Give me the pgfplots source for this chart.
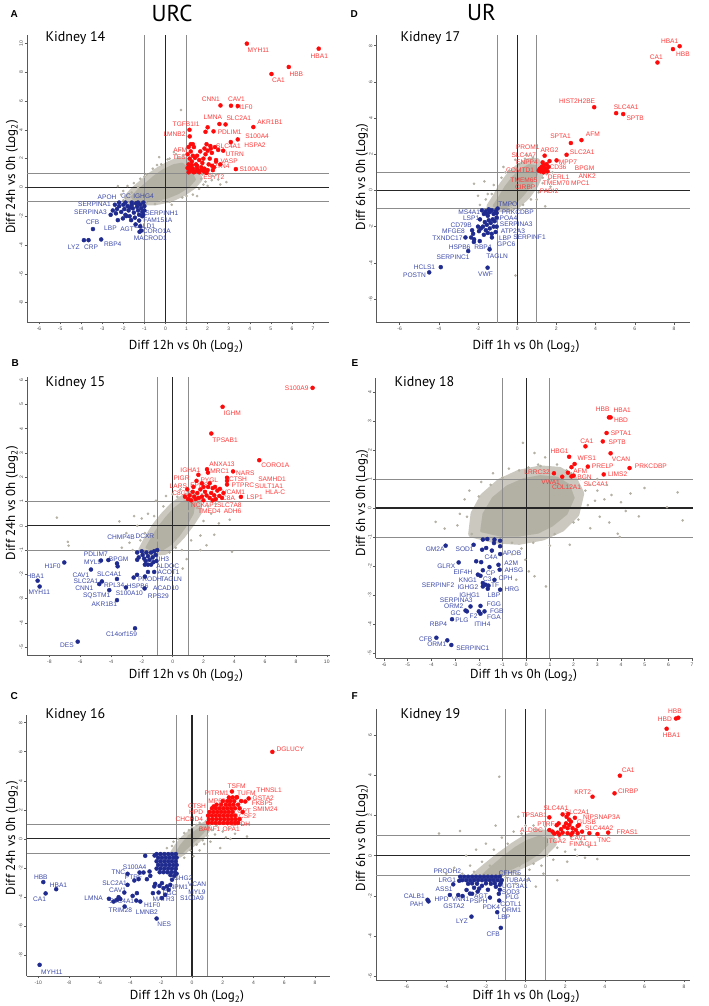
\documentclass[border=0pt]{standalone}
\usepackage{fontspec}
\setmainfont{PT Sans}
\newfontfamily\gfont{Liberation Sans}
\usepackage{pgfplots}
\pgfplotsset{compat=1.18}
\definecolor{ptgray}{HTML}{B3B0A4}
\definecolor{ptred}{HTML}{FF0A0A}
\definecolor{ptblue}{HTML}{1F2B8E}
\definecolor{lred}{HTML}{FF3A3A}
\definecolor{lblue}{HTML}{3B49A8}
\definecolor{refg}{HTML}{8C8C8C}
\pgfplotsset{
 volc/.style={scale only axis, anchor=south west,
   axis x line*=bottom, axis y line*=left,
   axis line style={black!65, line width=0.7pt, -},
   tick align=outside, major tick length=2.5pt,
   every tick/.style={black!65, line width=0.5pt},
   /pgf/number format/assume math mode=true,
   ticklabel style={font=\gfont\fontsize{5}{6}\selectfont, text=black!70},
   yticklabel style={rotate=90, anchor=south, inner sep=1.5pt},
   xticklabel style={inner sep=2pt},
   clip=false},
 gp/.style={only marks, mark=*, mark size=1.1pt, color=ptgray},
 halo/.style={fill=ptgray!70, draw=ptgray!70, line width=7pt, line join=round, mark=none},
 core/.style={fill=ptgray, draw=ptgray, line width=2pt, line join=round, mark=none},
 rp/.style={only marks, mark=*, mark size=2pt, color=ptred},
 bp/.style={only marks, mark=*, mark size=2pt, color=ptblue},
 l1/.style={refg, line width=0.9pt, mark=none},
 l0/.style={black!85, line width=1.2pt, mark=none},
}
\tikzset{
 rl/.style={font=\gfont\fontsize{6.6}{7}\selectfont, text=lred, inner sep=0pt},
 bl/.style={font=\gfont\fontsize{6.6}{7}\selectfont, text=lblue, inner sep=0pt},
 ttl/.style={font=\fontsize{23}{24}\selectfont, anchor=base},
 let/.style={font=\gfont\bfseries\fontsize{10}{11}\selectfont, anchor=base west},
 kid/.style={font=\fontsize{14}{15}\selectfont, anchor=base west},
 axl/.style={font=\fontsize{13}{14}\selectfont},
}
\begin{document}
\begin{tikzpicture}
\useasboundingbox (0pt,0pt) rectangle (709pt,1006pt);

% ================= A =================
\begin{axis}[volc, at={(27pt,684pt)}, width=302pt, height=287pt,
  xmin=-6.57, xmax=7.76, ymin=-9.34, ymax=10.58,
  xtick={-6,-5,...,7}, ytick={-8,-6,...,10}]
\addplot[halo] coordinates {(-1.8,-0.7) (-1.5,-0.2) (-1.1,0.3) (-0.7,0.8) (-0.3,1.2) (0.2,1.6) (0.7,1.9) (1.0,1.8) (1.4,1.2) (1.6,0.6) (1.3,0.1) (0.8,-0.4) (0.2,-0.8) (-0.5,-1.0) (-1.2,-1.0) (-1.7,-0.95)} --cycle;
\addplot[core] coordinates {(-1.6,-0.65) (-1.3,-0.2) (-0.9,0.3) (-0.5,0.8) (-0.1,1.2) (0.4,1.55) (0.8,1.65) (1.2,1.1) (1.4,0.55) (1.1,0.05) (0.6,-0.4) (0.1,-0.7) (-0.5,-0.9) (-1.1,-0.9) (-1.5,-0.85)} --cycle;
\addplot[gp] coordinates {(0.74,5.37) (-2.26,0.09) (-2.0,-0.25) (-1.8,0.1) (-1.5,0.3) (-1.2,0.6) (-0.9,0.9) (-0.6,1.3) (-0.2,1.6) (0.2,2.0) (0.5,2.3) (0.7,2.6) (0.4,2.45) (0.85,2.25) (1.7,0.6) (1.9,0.4) (2.2,0.8) (2.5,0.55) (2.89,0.37) (2.0,0.1) (1.6,-0.1) (1.3,-0.5) (0.8,-0.7) (0.2,-1.0) (-0.5,-1.15) (-1.9,-0.7) (-2.1,-0.5) (-1.6,-0.35) (1.75,0.9) (2.4,0.9) (-0.9,-1.05) (-1.3,0.0) (1.5,-0.6) (2.6,0.2) (0.3,-1.2) (-0.3,2.1) (-1.0,0.75) (-0.4,1.55) (0.1,1.95) (1.1,2.0) (1.5,1.5) (1.8,0.2) (1.0,-0.6) (-0.2,-0.95) (-1.45,-1.05) (-2.0,-0.9) (2.2,0.5)};
\addplot[l1] coordinates {(-1,-9.34) (-1,10.58)};
\addplot[l1] coordinates {(1,-9.34) (1,10.58)};
\addplot[l1] coordinates {(-6.57,1) (7.76,1)};
\addplot[l1] coordinates {(-6.57,-1) (7.76,-1)};
\addplot[l0] coordinates {(0,-9.34) (0,10.58)};
\addplot[l0] coordinates {(-6.57,0) (7.76,0)};
\addplot[rp] coordinates {(3.86,9.98) (7.27,9.63) (5.85,8.36) (5.03,7.87) (2.61,5.69) (3.11,5.67) (3.43,5.65) (2.56,4.40) (2.85,4.37) (4.17,4.19) (1.14,4.0) (1.15,3.54) (2.28,3.89) (2.0,4.17) (1.9,3.86) (3.43,3.33) (3.10,3.15) (2.13,2.87) (2.74,2.55) (2.40,1.90) (2.21,1.50) (3.34,1.27) (1.82,1.11)
(1.1,1.05) (1.15,1.2) (1.2,1.4) (1.1,1.6) (1.25,1.8) (1.15,2.0) (1.3,2.2) (1.2,2.5) (1.35,2.8) (1.2,3.0) (1.3,3.0) (1.4,1.1) (1.5,1.3) (1.45,1.6) (1.6,1.9) (1.55,1.15) (1.7,1.4) (1.75,1.7) (1.8,2.0) (1.9,2.3) (1.85,2.7) (1.95,3.0) (2.0,1.2) (2.05,1.6) (2.1,2.0) (2.2,2.4) (2.15,2.7) (2.3,1.4) (2.35,2.8) (2.4,1.8) (2.5,2.6) (1.6,1.05) (1.3,1.3) (1.05,1.35) (1.05,2.3) (1.5,2.2) (1.7,1.2) (1.95,1.0) (1.25,1.55) (2.25,1.2) (1.65,2.5) (1.4,2.05) (1.1,2.8) (2.6,1.6) (2.0,2.55) (1.35,1.05) (1.2,1.15) (1.5,1.5) (1.85,1.3)};
\addplot[bp] coordinates {(-2.4,-1.2) (-2.3,-1.5) (-2.2,-1.3) (-2.1,-1.7) (-2.0,-1.2) (-1.95,-1.5) (-1.9,-1.9) (-1.8,-1.3) (-1.75,-1.6) (-1.7,-2.0) (-1.6,-1.2) (-1.55,-1.45) (-1.5,-1.75) (-1.45,-2.1) (-1.4,-1.1) (-1.35,-1.35) (-1.3,-1.6) (-1.25,-1.9) (-1.2,-1.2) (-1.15,-1.45) (-1.1,-1.7) (-1.05,-1.05) (-1.1,-2.0) (-1.3,-1.05) (-1.6,-1.05) (-1.9,-1.05) (-2.2,-1.05) (-1.7,-1.4) (-1.25,-2.3) (-2.26,-2.27) (-2.02,-2.15) (-1.86,-1.99) (-1.63,-2.27) (-1.42,-2.57) (-1.23,-3.08) (-1.15,-3.0) (-3.44,-2.89) (-3.87,-3.66) (-3.65,-3.66) (-3.05,-3.61) (-2.5,-1.6) (-2.6,-1.9) (-2.35,-1.8) (-1.2,-2.7) (-1.0,-1.3) (-1.0,-1.6) (-1.05,-1.9)};
\node[rl] at (axis cs:4.41,9.49) {MYH11};
\node[rl] at (axis cs:7.30,9.14) {HBA1};
\node[rl] at (axis cs:6.21,7.89) {HBB};
\node[rl] at (axis cs:5.36,7.43) {CA1};
\node[rl] at (axis cs:2.15,6.11) {CNN1};
\node[rl] at (axis cs:3.37,6.11) {CAV1};
\node[rl] at (axis cs:3.75,5.56) {H1F0};
\node[rl] at (axis cs:2.25,4.84) {LMNA};
\node[rl] at (axis cs:3.48,4.79) {SLC2A1};
\node[rl] at (axis cs:4.96,4.51) {AKR1B1};
\node[rl] at (axis cs:0.98,4.42) {TGFB1I1};
\node[rl] at (axis cs:0.43,3.70) {LMNB2};
\node[rl] at (axis cs:3.05,3.82) {PDLIM1};
\node[rl] at (axis cs:4.35,3.52) {S100A4};
\node[rl] at (axis cs:4.25,2.96) {HSPA2};
\node[rl] at (axis cs:2.99,2.85) {SLC4A1};
\node[rl] at (axis cs:3.29,2.27) {UTRN};
\node[rl] at (axis cs:0.70,2.55) {AFM};
\node[rl] at (axis cs:0.66,2.08) {TES};
\node[rl] at (axis cs:3.02,1.83) {VASP};
\node[rl] at (axis cs:2.64,1.44) {RTN4};
\node[rl] at (axis cs:4.16,1.27) {S100A10};
\node[rl] at (axis cs:2.29,0.74) {ESYT2};
\node[bl] at (axis cs:-2.77,-0.69) {APOH};
\node[bl] at (axis cs:-1.87,-0.60) {GC};
\node[bl] at (axis cs:-1.04,-0.60) {IGHG4};
\node[bl] at (axis cs:-3.37,-1.20) {SERPINA1};
\node[bl] at (axis cs:-3.56,-1.74) {SERPINA3};
\node[bl] at (axis cs:-0.17,-1.81) {SERPINH1};
\node[bl] at (axis cs:-0.36,-2.27) {FAM151A};
\node[bl] at (axis cs:-1.0,-2.69) {CALD1};
\node[bl] at (axis cs:-0.41,-3.03) {CORO1A};
\node[bl] at (axis cs:-0.72,-3.56) {MACROD1};
\node[bl] at (axis cs:-3.45,-2.45) {CFB};
\node[bl] at (axis cs:-2.61,-2.85) {LBP};
\node[bl] at (axis cs:-1.82,-2.92) {AGT};
\node[bl] at (axis cs:-4.35,-4.12) {LYZ};
\node[bl] at (axis cs:-3.53,-4.12) {CRP};
\node[bl] at (axis cs:-2.50,-3.94) {RBP4};
\end{axis}

% ================= D =================
\begin{axis}[volc, at={(376.7pt,683.3pt)}, width=313.3pt, height=287.7pt,
  xmin=-7.17, xmax=8.82, ymin=-7.31, ymax=8.59,
  xtick={-6,-4,...,8}, ytick={-6,-4,...,8}]
\addplot[halo] coordinates {(-1.4,-0.9) (-1.1,-0.4) (-0.8,0.2) (-0.4,0.8) (0.1,1.3) (0.6,1.6) (1.0,1.6) (1.2,1.0) (0.9,0.3) (0.5,-0.3) (0.0,-0.8) (-0.5,-1.0) (-1.0,-1.0)} --cycle;
\addplot[core] coordinates {(-1.2,-0.85) (-0.9,-0.35) (-0.6,0.2) (-0.2,0.75) (0.2,1.15) (0.6,1.4) (0.95,1.35) (1.0,0.9) (0.7,0.3) (0.3,-0.25) (-0.1,-0.7) (-0.5,-0.9) (-0.9,-0.95)} --cycle;
\addplot[gp] coordinates {(-1.67,0.50) (-2.2,0.37) (1.43,-0.88) (-0.09,-4.70) (-1.3,-0.2) (-1.6,-0.5) (-1.9,-0.8) (-1.2,0.3) (-0.8,0.7) (-0.4,1.1) (0.1,1.45) (0.4,1.75) (0.8,1.8) (0.5,1.95) (1.3,0.4) (1.6,0.6) (1.8,1.0) (1.1,-0.1) (0.7,-0.5) (0.3,-0.8) (-0.3,-1.0) (-0.9,-0.5) (-0.5,0.3) (1.5,0.9) (-1.1,-0.9) (-0.7,1.3) (-0.1,1.7) (1.3,0.7) (-1.5,-0.2) (-0.6,1.0) (0.2,-1.05) (1.0,-0.5) (1.7,0.2) (-2.0,-0.3) (0.9,1.3)};
\addplot[l1] coordinates {(-1,-7.31) (-1,8.59)};
\addplot[l1] coordinates {(1,-7.31) (1,8.59)};
\addplot[l1] coordinates {(-7.17,1) (8.82,1)};
\addplot[l1] coordinates {(-7.17,-1) (8.82,-1)};
\addplot[l0] coordinates {(0,-7.31) (0,8.59)};
\addplot[l0] coordinates {(-7.17,0) (8.82,0)};
\addplot[rp] coordinates {(7.95,7.81) (8.29,7.97) (7.16,7.07) (3.93,4.60) (5.05,4.27) (5.41,4.22) (3.28,2.78) (2.74,2.62) (1.40,1.92) (2.52,1.97) (2.01,1.66) (1.65,1.62) (1.3,1.55) (1.35,1.4) (1.25,1.3) (1.4,1.25) (1.5,1.2) (1.3,1.15) (1.45,1.1) (1.2,1.05) (1.55,1.05) (1.35,1.0) (1.6,1.3) (1.15,1.2) (1.5,1.45) (1.1,1.1)};
\addplot[bp] coordinates {(-3.90,-4.24) (-4.49,-4.53) (-1.51,-4.27) (-1.41,-3.26) (-2.50,-3.35) (-2.21,-2.85) (-1.91,-2.80) (-2.64,-2.60) (-1.29,-2.60) (-1.8,-1.1) (-1.7,-1.3) (-1.6,-1.15) (-1.5,-1.4) (-1.4,-1.2) (-1.3,-1.1) (-1.2,-1.3) (-1.1,-1.15) (-1.05,-1.5) (-1.15,-1.7) (-1.25,-1.6) (-1.35,-1.8) (-1.45,-1.65) (-1.55,-1.9) (-1.65,-1.75) (-1.75,-2.0) (-1.85,-2.1) (-1.9,-1.6) (-2.0,-2.0) (-1.6,-2.2) (-1.4,-2.1) (-1.2,-2.0) (-1.1,-2.3) (-1.3,-2.4) (-1.5,-2.35) (-1.7,-2.45) (-2.3,-2.2) (-2.25,-2.4) (-2.35,-2.6) (-2.2,-2.7) (-1.95,-2.25) (-1.0,-1.0) (-1.45,-1.05) (-1.05,-2.0) (-1.55,-1.3) (-1.05,-1.25)};
\node[rl] at (axis cs:7.78,8.23) {HBA1};
\node[rl] at (axis cs:8.46,7.50) {HBB};
\node[rl] at (axis cs:7.10,7.37) {CA1};
\node[rl] at (axis cs:3.06,4.95) {HIST2H2BE};
\node[rl] at (axis cs:5.56,4.60) {SLC4A1};
\node[rl] at (axis cs:6.02,4.01) {SPTB};
\node[rl] at (axis cs:3.86,3.08) {AFM};
\node[rl] at (axis cs:2.21,2.98) {SPTA1};
\node[rl] at (axis cs:0.54,2.38) {PROM1};
\node[rl] at (axis cs:1.65,2.21) {ARG2};
\node[rl] at (axis cs:0.34,1.97) {SLC4A7};
\node[rl] at (axis cs:3.32,2.12) {SLC2A1};
\node[rl] at (axis cs:0.50,1.55) {ENPP4};
\node[rl] at (axis cs:2.59,1.57) {MPP7};
\node[rl] at (axis cs:2.08,1.29) {CD36};
\node[rl] at (axis cs:3.44,1.23) {BPGM};
\node[rl] at (axis cs:0.15,1.14) {COMTD1};
\node[rl] at (axis cs:2.11,0.74) {DERL1};
\node[rl] at (axis cs:3.57,0.81) {ANK2};
\node[rl] at (axis cs:0.34,0.59) {TMEM65};
\node[rl] at (axis cs:1.99,0.41) {TMEM70};
\node[rl] at (axis cs:3.22,0.41) {MPC1};
\node[rl] at (axis cs:0.41,0.15) {CIRBP};
\node[rl] at (axis cs:1.63,-0.04) {PADI2};
\node[bl] at (axis cs:-0.48,-0.77) {TMPO};
\node[bl] at (axis cs:-2.45,-1.22) {MS4A1};
\node[bl] at (axis cs:0.03,-1.22) {PRKCDBP};
\node[bl] at (axis cs:-2.35,-1.51) {LSP1};
\node[bl] at (axis cs:-0.56,-1.51) {APOA4};
\node[bl] at (axis cs:-2.86,-1.90) {CD79B};
\node[bl] at (axis cs:-0.05,-1.88) {SERPINA3};
\node[bl] at (axis cs:-3.25,-2.23) {MFGE8};
\node[bl] at (axis cs:-0.22,-2.23) {ATP2A3};
\node[bl] at (axis cs:-3.56,-2.63) {TXNDC17};
\node[bl] at (axis cs:-0.61,-2.65) {LBP};
\node[bl] at (axis cs:0.63,-2.58) {SERPINF1};
\node[bl] at (axis cs:-2.94,-3.13) {HSPB6};
\node[bl] at (axis cs:-1.75,-3.13) {RBP4};
\node[bl] at (axis cs:-0.56,-3.00) {GPC6};
\node[bl] at (axis cs:-3.27,-3.70) {SERPINC1};
\node[bl] at (axis cs:-1.02,-3.61) {TAGLN};
\node[bl] at (axis cs:-4.73,-4.24) {HCLS1};
\node[bl] at (axis cs:-5.24,-4.70) {POSTN};
\node[bl] at (axis cs:-1.62,-4.64) {VWF};
\end{axis}

% ================= B =================
\begin{axis}[volc, at={(27.3pt,351pt)}, width=302.7pt, height=278.3pt,
  xmin=-9.43, xmax=10.21, ymin=-5.32, ymax=6.14,
  xtick={-8,-6,...,10}, ytick={-5,-4,...,6}]
\addplot[halo] coordinates {(-2.0,-1.0) (-1.6,-0.5) (-1.1,0.0) (-0.6,0.4) (0.0,0.8) (0.6,1.1) (1.2,1.3) (1.6,1.1) (1.7,0.6) (1.2,0.1) (0.6,-0.4) (0.0,-0.8) (-0.5,-1.05) (-1.2,-1.1)} --cycle;
\addplot[core] coordinates {(-1.7,-0.9) (-1.3,-0.45) (-0.9,-0.05) (-0.4,0.35) (0.1,0.7) (0.6,0.95) (1.1,1.1) (1.4,0.9) (1.3,0.5) (0.9,0.05) (0.4,-0.4) (-0.1,-0.75) (-0.6,-0.95) (-1.2,-1.0)} --cycle;
\addplot[gp] coordinates {(-7.51,0.34) (-6.8,-0.66) (-6.75,-0.82) (-3.46,0.18) (-2.5,0.4) (-3.0,-0.3) (-2.8,-0.7) (-2.3,0.0) (-2.1,-0.6) (-1.6,0.5) (-1.08,1.03) (-0.43,1.23) (0.0,1.3) (0.5,1.5) (1.58,0.73) (2.5,0.5) (2.70,-0.37) (3.85,-1.07) (0.91,-1.37) (0.65,-1.76) (2.2,-0.8) (1.8,-0.4) (3.0,0.1) (3.7,0.25) (1.2,-0.6) (0.6,-1.0) (-0.2,-1.1) (2.3,0.8) (1.5,1.0) (-1.5,-1.0) (-3.3,-0.9) (-2.6,-1.0) (1.8,-1.0) (-1.2,0.4) (2.8,0.9) (2.0,0.2) (-2.0,0.3) (-0.6,0.8) (0.3,1.2) (1.0,0.6) (1.9,1.3) (-1.8,-0.3) (0.2,-0.9) (-1.0,-0.6)};
\addplot[l1] coordinates {(-1,-5.32) (-1,6.14)};
\addplot[l1] coordinates {(1,-5.32) (1,6.14)};
\addplot[l1] coordinates {(-9.43,1) (10.21,1)};
\addplot[l1] coordinates {(-9.43,-1) (10.21,-1)};
\addplot[l0] coordinates {(0,-5.32) (0,6.14)};
\addplot[l0] coordinates {(-9.43,0) (10.21,0)};
\addplot[rp] coordinates {(9.08,5.68) (3.24,4.90) (2.51,3.80) (5.62,2.70) (2.23,2.33) (1.67,2.10) (2.29,2.19) (3.92,2.24) (3.53,1.98) (3.53,1.85) (3.53,1.70) (4.43,1.19) (3.07,1.52) (3.03,1.23)
(1.0,1.1) (1.1,1.25) (1.2,1.05) (1.3,1.4) (1.4,1.2) (1.5,1.1) (1.6,1.35) (1.7,1.15) (1.8,1.5) (1.9,1.2) (2.0,1.05) (2.1,1.4) (2.2,1.25) (2.3,1.6) (2.4,1.15) (2.5,1.35) (2.6,1.05) (2.7,1.25) (2.8,1.1) (2.9,1.45) (1.9,1.75) (2.4,1.75) (2.6,1.55) (1.35,1.6) (0.95,1.5) (2.0,1.6) (1.55,1.85) (2.75,1.6) (3.2,1.15) (3.3,1.35) (0.8,1.2)};
\addplot[bp] coordinates {(-7.03,-1.51) (-8.76,-2.26) (-8.63,-2.50) (-5.30,-1.80) (-2.44,-4.22) (-6.16,-4.77) (-3.61,-3.06) (-4.65,-1.43) (-4.17,-1.41) (-3.57,-1.67) (-3.61,-1.55) (-3.61,-2.19) (-4.59,-2.29) (-4.76,-2.40) (-4.11,-2.65) (-3.03,-2.54) (-2.53,-2.13) (-2.31,-2.02) (-1.82,-2.58) (-1.80,-2.09) (-1.6,-1.9) (-1.2,-1.9) (-1.6,-1.6) (-1.8,-1.6) (-2.3,-1.1) (-2.2,-1.3) (-2.0,-1.05) (-1.95,-1.2) (-1.85,-1.35) (-1.7,-1.1) (-1.6,-1.25) (-1.5,-1.4) (-1.4,-1.1) (-1.3,-1.3) (-1.2,-1.05) (-1.1,-1.2) (-1.05,-1.45) (-1.25,-1.5) (-2.3,-1.4) (-1.75,-1.45) (-1.0,-1.0) (-1.4,-1.6)};
\node[rl] at (axis cs:8.05,5.68) {S100A9};
\node[rl] at (axis cs:3.87,4.64) {IGHM};
\node[rl] at (axis cs:3.40,3.53) {TPSAB1};
\node[rl] at (axis cs:6.66,2.51) {CORO1A};
\node[rl] at (axis cs:3.20,2.55) {ANXA13};
\node[rl] at (axis cs:1.15,2.29) {IGHA1};
\node[rl] at (axis cs:3.05,2.24) {MRC1};
\node[rl] at (axis cs:4.72,2.18) {NARS};
\node[rl] at (axis cs:0.58,1.95) {PIGR};
\node[rl] at (axis cs:2.38,1.89) {PYGL};
\node[rl] at (axis cs:4.24,1.93) {CTSH};
\node[rl] at (axis cs:6.45,1.91) {SAMHD1};
\node[rl] at (axis cs:0.37,1.65) {LARS};
\node[rl] at (axis cs:1.73,1.69) {EPRS};
\node[rl] at (axis cs:4.56,1.69) {PTPRC};
\node[rl] at (axis cs:6.25,1.63) {SULT1A1};
\node[rl] at (axis cs:6.66,1.37) {HLA-C};
\node[rl] at (axis cs:0.43,1.34) {C8G};
\node[rl] at (axis cs:3.96,1.40) {VCAM1};
\node[rl] at (axis cs:3.63,1.14) {C8A};
\node[rl] at (axis cs:5.32,1.18) {LSP1};
\node[rl] at (axis cs:2.05,0.84) {NCKAP1};
\node[rl] at (axis cs:3.68,0.86) {SLC7A8};
\node[rl] at (axis cs:2.38,0.58) {TMED4};
\node[rl] at (axis cs:3.89,0.60) {ADH6};
\node[bl] at (axis cs:-3.35,-0.49) {CHMP4B};
\node[bl] at (axis cs:-1.80,-0.41) {DCXR};
\node[bl] at (axis cs:-4.98,-1.18) {PDLIM7};
\node[bl] at (axis cs:-5.19,-1.51) {MYL9};
\node[bl] at (axis cs:-3.50,-1.37) {BPGM};
\node[bl] at (axis cs:-7.79,-1.67) {H1F0};
\node[bl] at (axis cs:-8.91,-2.06) {HBA1};
\node[bl] at (axis cs:-8.65,-2.74) {MYH11};
\node[bl] at (axis cs:-5.95,-2.03) {CAV1};
\node[bl] at (axis cs:-5.62,-2.30) {SLC2A1};
\node[bl] at (axis cs:-5.73,-2.58) {CNN1};
\node[bl] at (axis cs:-4.11,-2.00) {SLC4A1};
\node[bl] at (axis cs:-3.79,-2.44) {RPL34};
\node[bl] at (axis cs:-4.93,-2.88) {SQSTM1};
\node[bl] at (axis cs:-4.43,-3.25) {AKR1B1};
\node[bl] at (axis cs:-2.81,-2.78) {S100A10};
\node[bl] at (axis cs:-0.93,-2.88) {RPS29};
\node[bl] at (axis cs:-0.43,-2.58) {ACAD10};
\node[bl] at (axis cs:-0.09,-2.19) {TAGLN};
\node[bl] at (axis cs:-0.26,-1.92) {ACOT1};
\node[bl] at (axis cs:-0.32,-1.67) {ALDOC};
\node[bl] at (axis cs:-0.76,-1.37) {ITIH3};
\node[bl] at (axis cs:-1.47,-2.22) {PRODH};
\node[bl] at (axis cs:-2.27,-2.50) {HSPB6};
\node[bl] at (axis cs:-3.31,-4.46) {C14orf159};
\node[bl] at (axis cs:-6.86,-4.91) {DES};
\end{axis}

% ================= E =================
\begin{axis}[volc, at={(375.7pt,347.7pt)}, width=317.6pt, height=280pt,
  xmin=-6.35, xmax=7.05, ymin=-5.19, ymax=4.48,
  xtick={-6,-5,...,7}, ytick={-5,-4,...,4}]
\addplot[halo] coordinates {(-2.3,-0.9) (-2.2,-0.2) (-1.8,0.4) (-1.1,0.9) (-0.3,1.2) (0.6,1.35) (1.4,1.3) (2.0,1.0) (2.3,0.5) (2.1,-0.2) (1.5,-0.7) (0.7,-1.0) (-0.3,-1.15) (-1.3,-1.1)} --cycle;
\addplot[core] coordinates {(-1.9,-0.8) (-1.8,-0.2) (-1.4,0.35) (-0.8,0.75) (-0.1,1.0) (0.6,1.1) (1.3,1.05) (1.8,0.8) (2.0,0.35) (1.7,-0.2) (1.1,-0.6) (0.5,-0.85) (-0.3,-0.95) (-1.1,-0.95)} --cycle;
\addplot[gp] coordinates {(-3.82,-0.48) (-3.44,-0.71) (-2.8,-0.2) (-2.6,0.3) (-2.9,-0.6) (-2.4,0.6) (-1.9,0.9) (-1.4,1.2) (-0.73,1.36) (-0.14,2.25) (0.35,1.90) (0.8,1.75) (0.5,1.5) (1.3,1.5) (-1.0,1.05) (1.9,1.2) (2.3,1.0) (2.7,0.8) (3.0,0.6) (3.0,1.0) (3.3,0.3) (3.6,0.45) (4.0,0.2) (4.4,0.5) (4.99,0.69) (6.39,0.54) (6.6,-0.43) (5.94,0.03) (4.75,-0.29) (3.86,-0.89) (3.95,-1.0) (3.1,-0.3) (2.7,-0.7) (2.6,0.1) (2.0,-0.5) (1.84,-1.27) (1.2,-0.9) (0.3,-1.2) (-0.2,-1.4) (0.11,-2.19) (0.35,-2.36) (-0.04,-1.79) (0.83,-2.71) (-0.42,-2.48) (-0.6,-1.2) (-2.3,-0.9) (-2.0,0.4) (-1.8,-0.6) (0.6,1.45) (-0.3,1.3) (3.5,-0.5) (4.2,-0.1) (1.0,-1.3) (-0.6,-1.6) (2.5,0.6) (2.2,-0.4) (-2.5,-0.3) (1.7,1.3) (0.1,1.4) (-1.5,0.8) (3.4,0.8) (2.9,0.25)};
\addplot[l1] coordinates {(-1,-5.19) (-1,4.48)};
\addplot[l1] coordinates {(1,-5.19) (1,4.48)};
\addplot[l1] coordinates {(-6.35,1) (7.05,1)};
\addplot[l1] coordinates {(-6.35,-1) (7.05,-1)};
\addplot[l0] coordinates {(0,-5.19) (0,4.48)};
\addplot[l0] coordinates {(-6.35,0) (7.05,0)};
\addplot[rp] coordinates {(3.49,3.13) (3.56,3.13) (3.39,2.59) (3.23,2.30) (2.50,2.13) (1.81,1.77) (3.56,1.89) (2.04,1.52) (2.60,1.43) (4.36,1.38) (1.17,1.20) (1.91,1.41) (1.76,1.22) (3.27,1.16) (1.91,1.09) (2.0,1.12) (1.52,1.08)};
\addplot[bp] coordinates {(-3.40,-1.30) (-2.22,-1.27) (-2.85,-1.88) (-3.79,-4.48) (-3.33,-4.57) (-3.16,-4.73) (-3.13,-3.84) (-2.56,-3.54) (-2.35,-3.40) (-2.50,-3.57) (-2.0,-3.57) (-1.93,-3.38) (-1.93,-3.65) (-1.76,-3.57) (-2.11,-1.84) (-1.90,-1.87) (-1.83,-2.15) (-1.93,-2.34) (-2.04,-2.30) (-1.83,-2.71) (-1.71,-2.65) (-1.62,-2.79) (-1.59,-2.68) (-1.34,-2.48) (-1.10,-2.82) (-1.12,-2.13) (-1.17,-1.96) (-1.55,-2.04) (-1.10,-1.59) (-1.45,-1.47) (-1.69,-1.38) (-1.83,-1.09) (-1.64,-1.07) (-1.86,-1.44) (-1.34,-1.09) (-1.10,-1.13) (-1.36,-1.21) (-1.10,-1.32) (-1.83,-2.59)};
\node[rl] at (axis cs:3.23,3.40) {HBB};
\node[rl] at (axis cs:4.05,3.36) {HBA1};
\node[rl] at (axis cs:4.0,3.03) {HBD};
\node[rl] at (axis cs:4.0,2.59) {SPTA1};
\node[rl] at (axis cs:3.84,2.28) {SPTB};
\node[rl] at (axis cs:2.56,2.30) {CA1};
\node[rl] at (axis cs:1.41,1.96) {HBG1};
\node[rl] at (axis cs:4.0,1.67) {VCAN};
\node[rl] at (axis cs:2.56,1.72) {WFS1};
\node[rl] at (axis cs:3.23,1.44) {PRELP};
\node[rl] at (axis cs:5.26,1.44) {PRKCDBP};
\node[rl] at (axis cs:0.46,1.23) {LRRC32};
\node[rl] at (axis cs:2.28,1.26) {AFM};
\node[rl] at (axis cs:3.86,1.16) {LIMS2};
\node[rl] at (axis cs:2.46,1.07) {BGN};
\node[rl] at (axis cs:1.03,0.90) {VWA1};
\node[rl] at (axis cs:1.70,0.73) {COL12A1};
\node[rl] at (axis cs:2.95,0.83) {SLC4A1};
\node[bl] at (axis cs:-3.84,-1.44) {GM2A};
\node[bl] at (axis cs:-2.60,-1.44) {SOD1};
\node[bl] at (axis cs:-0.60,-1.56) {APOB};
\node[bl] at (axis cs:-1.48,-1.71) {C4A};
\node[bl] at (axis cs:-0.63,-1.90) {A2M};
\node[bl] at (axis cs:-0.52,-2.14) {AHSG};
\node[bl] at (axis cs:-3.37,-2.02) {GLRX};
\node[bl] at (axis cs:-2.67,-2.22) {EIF4H};
\node[bl] at (axis cs:-1.50,-2.25) {CP};
\node[bl] at (axis cs:-0.87,-2.44) {CPH};
\node[bl] at (axis cs:-1.64,-2.45) {C3};
\node[bl] at (axis cs:-2.46,-2.48) {KNG1};
\node[bl] at (axis cs:-3.72,-2.65) {SERPINF2};
\node[bl] at (axis cs:-1.31,-2.66) {TF};
\node[bl] at (axis cs:-2.46,-2.74) {IGHG2};
\node[bl] at (axis cs:-0.60,-2.82) {HRG};
\node[bl] at (axis cs:-2.39,-3.0) {IGHG1};
\node[bl] at (axis cs:-1.36,-3.02) {LBP};
\node[bl] at (axis cs:-2.95,-3.17) {SERPINA3};
\node[bl] at (axis cs:-3.06,-3.40) {ORM2};
\node[bl] at (axis cs:-1.36,-3.34) {FGG};
\node[bl] at (axis cs:-2.98,-3.63) {GC};
\node[bl] at (axis cs:-1.24,-3.55) {FGB};
\node[bl] at (axis cs:-2.22,-3.74) {F2};
\node[bl] at (axis cs:-1.36,-3.77) {FGA};
\node[bl] at (axis cs:-2.71,-3.86) {PLG};
\node[bl] at (axis cs:-3.70,-4.0) {RBP4};
\node[bl] at (axis cs:-1.85,-4.0) {ITIH4};
\node[bl] at (axis cs:-4.24,-4.53) {CFB};
\node[bl] at (axis cs:-3.77,-4.72) {ORM1};
\node[bl] at (axis cs:-2.25,-4.84) {SERPINC1};
\end{axis}

% ================= C =================
\begin{axis}[volc, at={(26.7pt,30pt)}, width=303.3pt, height=261pt,
  xmin=-10.75, xmax=8.98, ymin=-9.45, ymax=8.53,
  xtick={-10,-8,...,8}, ytick={-8,-6,...,8}]
\addplot[halo] coordinates {(-1.2,-1.0) (-0.9,-0.5) (-0.5,0.0) (0.0,0.45) (0.5,0.8) (0.9,0.95) (1.0,0.7) (0.7,0.3) (0.3,-0.1) (-0.2,-0.5) (-0.6,-0.9) (-0.9,-1.1)} --cycle;
\addplot[core] coordinates {(-1.0,-0.95) (-0.75,-0.5) (-0.4,-0.05) (0.0,0.35) (0.5,0.7) (0.8,0.8) (0.85,0.6) (0.55,0.25) (0.15,-0.15) (-0.25,-0.55) (-0.6,-0.9)} --cycle;
\addplot[gp] coordinates {(1.84,-0.64) (3.58,0.16) (2.2,0.1) (1.5,0.3) (0.5,-0.8) (1.2,-0.2) (0.8,-0.35) (2.5,0.0) (-1.63,-0.64) (-1.3,-0.5) (-0.9,0.0) (-0.5,0.4) (0.0,0.8) (0.5,1.1) (0.3,0.95) (1.3,0.6) (1.6,0.9) (2.0,0.5) (2.8,0.35) (-0.1,-0.8) (0.3,-0.4) (-0.6,-0.7) (-1.5,-1.0) (-2.0,-1.0) (1.0,0.2) (0.7,-0.1) (-0.3,-0.2) (-0.8,-0.9) (-1.2,-0.2) (0.9,1.2) (-0.2,0.6) (1.2,1.0) (2.4,0.7) (0.1,-1.2) (-0.5,-1.3) (-0.2,0.2)};
\addplot[l1] coordinates {(-1,-9.45) (-1,8.53)};
\addplot[l1] coordinates {(1,-9.45) (1,8.53)};
\addplot[l1] coordinates {(-10.75,1) (8.98,1)};
\addplot[l1] coordinates {(-10.75,-1) (8.98,-1)};
\addplot[l0] coordinates {(0,-9.45) (0,8.53)};
\addplot[l0] coordinates {(-10.75,0) (8.98,0)};
\addplot[rp] coordinates {(5.23,5.99) (2.60,3.26) (3.69,2.78) (2.93,2.87) (3.47,2.57) (1.41,2.23)
(1.05,1.1) (1.3,1.1) (1.55,1.1) (1.8,1.1) (2.05,1.1) (2.3,1.1) (2.55,1.1) (2.8,1.1) (3.0,1.1)
(1.1,1.35) (1.35,1.35) (1.6,1.35) (1.85,1.35) (2.1,1.35) (2.35,1.35) (2.6,1.35) (2.85,1.35) (3.1,1.35)
(1.05,1.6) (1.3,1.6) (1.55,1.6) (1.8,1.6) (2.05,1.6) (2.3,1.6) (2.55,1.6) (2.8,1.6)
(1.15,1.85) (1.4,1.85) (1.65,1.85) (1.9,1.85) (2.15,1.85) (2.4,1.85) (2.65,1.85) (3.3,1.85)
(1.3,2.1) (1.55,2.1) (1.8,2.1) (2.05,2.1) (2.3,2.1) (2.55,2.1) (2.8,2.1) (3.1,2.1)
(1.6,2.35) (1.9,2.35) (2.2,2.35) (2.45,2.35) (2.7,2.35) (3.0,2.35)
(2.0,2.6) (2.3,2.6) (2.5,2.6) (2.75,2.6) (3.2,2.6)
(2.4,2.85) (2.65,2.85) (2.9,2.85)};
\addplot[bp] coordinates {(-9.67,-2.98) (-8.83,-3.47) (-9.52,-3.76) (-9.91,-8.68) (-2.30,-5.49) (-5.40,-4.13) (-4.77,-4.02) (-4.38,-4.66)
(-3.04,-1.17) (-2.43,-1.15) (-3.41,-2.32) (-3.15,-2.32) (-4.19,-2.41) (-2.76,-2.25) (-2.71,-2.55) (-2.93,-2.78) (-3.47,-2.78) (-3.75,-2.87) (-4.19,-3.17) (-2.39,-3.10) (-1.95,-3.05) (-2.11,-3.24) (-2.45,-3.28) (-1.63,-3.28) (-2.17,-3.70) (-2.54,-3.74) (-3.58,-3.74) (-3.86,-3.93) (-4.40,-3.70) (-3.62,-4.25) (-3.36,-4.32) (-4.66,-4.15) (-4.88,-4.20) (-5.10,-4.32) (-1.95,-4.08) (-1.74,-3.86) (-1.52,-3.51) (-1.41,-3.17) (-1.85,-3.40) (-1.30,-2.82)
(-2.3,-1.05) (-2.05,-1.05) (-1.8,-1.05) (-1.55,-1.05) (-1.3,-1.05) (-1.05,-1.05)
(-2.2,-1.3) (-1.95,-1.3) (-1.7,-1.3) (-1.45,-1.3) (-1.2,-1.3) (-1.0,-1.3)
(-2.3,-1.55) (-2.05,-1.55) (-1.8,-1.55) (-1.55,-1.55) (-1.3,-1.55) (-1.05,-1.55)
(-2.2,-1.8) (-1.95,-1.8) (-1.7,-1.8) (-1.45,-1.8) (-1.2,-1.8) (-1.0,-1.8)
(-2.3,-2.05) (-2.05,-2.05) (-1.8,-2.05) (-1.55,-2.05) (-1.3,-2.05) (-1.05,-2.05)
(-2.1,-2.3) (-1.85,-2.3) (-1.6,-2.3) (-1.35,-2.3) (-1.1,-2.3)
(-1.4,-2.5) (-1.15,-2.55) (-1.0,-2.4)};
\node[rl] at (axis cs:6.40,6.18) {DGLUCY};
\node[rl] at (axis cs:2.91,3.65) {TSFM};
\node[rl] at (axis cs:3.54,3.17) {TUFM};
\node[rl] at (axis cs:5.02,3.33) {THNSL1};
\node[rl] at (axis cs:1.61,3.17) {PITRM1};
\node[rl] at (axis cs:4.64,2.82) {GSTA2};
\node[rl] at (axis cs:1.63,2.62) {MP68};
\node[rl] at (axis cs:4.57,2.45) {FKBP5};
\node[rl] at (axis cs:0.33,2.23) {CTSH};
\node[rl] at (axis cs:4.77,2.07) {SMIM24};
\node[rl] at (axis cs:0.27,1.81) {HPD};
\node[rl] at (axis cs:3.40,1.93) {GPT};
\node[rl] at (axis cs:-0.17,1.38) {CHCHD4};
\node[rl] at (axis cs:3.47,1.54) {ACSF2};
\node[rl] at (axis cs:3.05,1.03) {ASPDH};
\node[rl] at (axis cs:1.15,0.64) {BANF1};
\node[rl] at (axis cs:2.55,0.64) {OPA1};
\node[bl] at (axis cs:-9.83,-2.64) {HBB};
\node[bl] at (axis cs:-8.68,-3.17) {HBA1};
\node[bl] at (axis cs:-9.91,-4.13) {CA1};
\node[bl] at (axis cs:-9.11,-9.16) {MYH11};
\node[bl] at (axis cs:-3.73,-1.95) {S100A4};
\node[bl] at (axis cs:-4.79,-2.30) {TNC};
\node[bl] at (axis cs:-3.80,-2.64) {PTRF};
\node[bl] at (axis cs:-5.03,-3.05) {SLC2A1};
\node[bl] at (axis cs:-4.84,-3.51) {CAV1};
\node[bl] at (axis cs:-6.40,-4.11) {LMNA};
\node[bl] at (axis cs:-4.56,-4.29) {SLC4A1};
\node[bl] at (axis cs:-4.66,-4.94) {TRIM28};
\node[bl] at (axis cs:-2.58,-4.55) {H1F0};
\node[bl] at (axis cs:-2.93,-5.05) {LMNB2};
\node[bl] at (axis cs:-1.80,-5.85) {NES};
\node[bl] at (axis cs:-0.63,-2.69) {IGHG2};
\node[bl] at (axis cs:-0.85,-3.33) {NPM1};
\node[bl] at (axis cs:0.33,-3.13) {VCAN};
\node[bl] at (axis cs:-1.45,-3.77) {FGC};
\node[bl] at (axis cs:0.33,-3.70) {MYL9};
\node[bl] at (axis cs:-1.85,-4.17) {MATR3};
\node[bl] at (axis cs:0.0,-4.12) {S100A9};
\end{axis}

% ================= F =================
\begin{axis}[volc, at={(376pt,26pt)}, width=314pt, height=270.7pt,
  xmin=-7.55, xmax=8.3, ymin=-6.2, ymax=7.3,
  xtick={-6,-4,...,8}, ytick={-6,-4,...,6}]
\addplot[halo] coordinates {(-2.6,-1.05) (-2.0,-0.55) (-1.3,0.0) (-0.6,0.5) (0.05,0.9) (0.7,1.15) (1.2,1.1) (1.4,0.6) (0.9,0.1) (0.2,-0.3) (-0.6,-0.65) (-1.4,-0.95) (-2.0,-1.1)} --cycle;
\addplot[core] coordinates {(-2.2,-1.0) (-1.7,-0.55) (-1.1,-0.05) (-0.5,0.4) (0.1,0.75) (0.7,0.95) (1.05,0.85) (1.1,0.55) (0.7,0.15) (0.1,-0.25) (-0.6,-0.6) (-1.3,-0.9) (-1.8,-1.0)} --cycle;
\addplot[gp] coordinates {(-1.33,3.94) (-4.37,1.11) (-3.31,1.23) (-1.51,1.50) (-0.37,1.94) (3.62,-0.17) (1.60,-1.23) (0.52,-1.54) (-4.0,-0.9) (-3.6,-0.6) (-3.0,0.0) (-2.5,0.3) (-2.0,0.6) (-1.2,0.9) (-0.6,1.2) (0.0,1.5) (0.4,1.5) (1.0,1.45) (2.3,0.9) (2.8,0.7) (3.2,0.45) (2.5,0.3) (2.0,0.2) (1.4,-0.2) (0.8,-0.5) (0.2,-0.7) (-0.4,-0.9) (-1.0,-1.1) (-0.5,-1.4) (0.1,-1.2) (3.0,-0.1) (-2.2,-0.3) (1.7,0.9) (2.1,-0.3) (0.9,-0.9) (-1.8,-0.5) (-3.2,-0.9) (-2.8,-0.5) (-1.6,0.3) (-0.9,0.6) (-0.2,1.1) (0.5,1.3) (1.6,0.4) (1.1,0.0) (0.4,-0.4) (-0.3,-0.5) (-1.1,-0.6) (2.6,0.0) (-2.6,-0.8)};
\addplot[l1] coordinates {(-1,-6.2) (-1,7.3)};
\addplot[l1] coordinates {(1,-6.2) (1,7.3)};
\addplot[l1] coordinates {(-7.55,1) (8.3,1)};
\addplot[l1] coordinates {(-7.55,-1) (8.3,-1)};
\addplot[l0] coordinates {(0,-6.2) (0,7.3)};
\addplot[l0] coordinates {(-7.55,0) (8.3,0)};
\addplot[rp] coordinates {(7.71,6.88) (7.59,6.84) (7.12,6.33) (4.76,3.99) (4.49,3.11) (3.38,2.94) (1.20,1.91) (1.87,2.06) (2.07,1.94) (2.15,2.08) (2.49,1.89) (1.67,1.61) (1.57,1.52) (2.04,1.61) (2.21,1.53) (2.37,1.37) (2.63,1.48) (2.85,1.20) (1.20,1.28) (1.36,1.20) (1.62,1.15) (1.87,1.15) (2.12,1.12) (2.37,1.15) (2.63,1.12) (3.63,1.08) (3.22,1.12) (4.17,1.15) (2.29,1.70) (2.12,1.37) (1.79,1.32) (2.54,1.28) (2.20,1.80) (2.69,1.53) (1.45,1.1) (1.95,1.45) (2.3,1.05) (1.7,1.05)};
\addplot[bp] coordinates {(-4.95,-2.2) (-4.9,-2.28) (-2.73,-3.04) (-1.25,-3.60) (-1.43,-2.82) (-1.33,-2.24) (-3.82,-1.96) (-3.40,-1.96) (-3.18,-2.01) (-2.81,-1.89) (-3.65,-1.43) (-3.35,-1.25) (-2.98,-1.71) (-2.42,-1.79) (-2.34,-1.64) (-1.80,-2.09) (-2.6,-1.6) (-2.2,-1.5) (-1.9,-1.7) (-1.5,-1.55) (-1.3,-1.7) (-1.35,-1.9) (-1.3,-1.45) (-2.7,-1.9)
(-3.3,-1.05) (-3.1,-1.05) (-2.9,-1.05) (-2.7,-1.05) (-2.5,-1.05) (-2.3,-1.05) (-2.1,-1.05) (-1.9,-1.05) (-1.7,-1.05) (-1.5,-1.05) (-1.3,-1.05)
(-3.2,-1.22) (-3.0,-1.22) (-2.8,-1.22) (-2.6,-1.22) (-2.4,-1.22) (-2.2,-1.22) (-2.0,-1.22) (-1.8,-1.22) (-1.6,-1.22) (-1.4,-1.22) (-1.2,-1.22)
(-2.9,-1.4) (-2.7,-1.38) (-2.45,-1.4) (-2.0,-1.38) (-1.75,-1.4) (-1.55,-1.38) (-1.25,-1.35)};
\node[rl] at (axis cs:7.54,7.18) {HBB};
\node[rl] at (axis cs:7.03,6.79) {HBD};
\node[rl] at (axis cs:7.37,6.01) {HBA1};
\node[rl] at (axis cs:5.18,4.27) {CA1};
\node[rl] at (axis cs:5.18,3.22) {CIRBP};
\node[rl] at (axis cs:2.88,3.19) {KRT2};
\node[rl] at (axis cs:1.53,2.39) {SLC4A1};
\node[rl] at (axis cs:2.61,2.19) {SLC2A1};
\node[rl] at (axis cs:3.84,1.91) {NIPSNAP3A};
\node[rl] at (axis cs:0.44,2.03) {TPSAB1};
\node[rl] at (axis cs:3.08,1.65) {GUSB};
\node[rl] at (axis cs:1.03,1.58) {PTRF};
\node[rl] at (axis cs:3.72,1.36) {SLC44A2};
\node[rl] at (axis cs:5.13,1.15) {FRAS1};
\node[rl] at (axis cs:0.30,1.28) {ALDOC};
\node[rl] at (axis cs:3.97,0.78) {TNC};
\node[rl] at (axis cs:1.56,0.71) {ITGA2};
\node[rl] at (axis cs:2.66,0.85) {CAV1};
\node[rl] at (axis cs:2.91,0.56) {FINAGL1};
\node[bl] at (axis cs:-3.95,-0.78) {PRODH2};
\node[bl] at (axis cs:-0.79,-0.88) {CFHR5};
\node[bl] at (axis cs:-3.95,-1.21) {LRG1};
\node[bl] at (axis cs:-0.37,-1.23) {TUBA4A};
\node[bl] at (axis cs:-4.11,-1.68) {ASS1};
\node[bl] at (axis cs:-0.54,-1.54) {UGT3A1};
\node[bl] at (axis cs:-5.62,-2.01) {CALB1};
\node[bl] at (axis cs:-0.74,-1.83) {SOD3};
\node[bl] at (axis cs:-4.24,-2.16) {HPD};
\node[bl] at (axis cs:-3.28,-2.16) {VNN1};
\node[bl] at (axis cs:-2.25,-2.01) {AGT};
\node[bl] at (axis cs:-0.66,-2.08) {PLG};
\node[bl] at (axis cs:-5.50,-2.41) {PAH};
\node[bl] at (axis cs:-3.62,-2.54) {GSTA2};
\node[bl] at (axis cs:-2.37,-2.29) {PSPH};
\node[bl] at (axis cs:-0.74,-2.41) {COTL1};
\node[bl] at (axis cs:-1.73,-2.56) {PDK4};
\node[bl] at (axis cs:-0.71,-2.71) {ORM1};
\node[bl] at (axis cs:-1.09,-3.09) {LBP};
\node[bl] at (axis cs:-3.21,-3.29) {LYZ};
\node[bl] at (axis cs:-1.63,-3.94) {CFB};
\end{axis}

% ============ global texts ============
\node[ttl] at (172pt,984pt) {URC};
\node[ttl] at (481.5pt,985pt) {UR};
\node[let] at (7pt,988pt) {A};
\node[let] at (347pt,988pt) {D};
\node[let] at (8pt,639pt) {B};
\node[let] at (348pt,639pt) {E};
\node[let] at (7pt,306pt) {C};
\node[let] at (348pt,306pt) {F};
\node[kid] at (42pt,964pt) {Kidney 14};
\node[kid] at (397pt,964pt) {Kidney 17};
\node[kid] at (42pt,619pt) {Kidney 15};
\node[kid] at (391pt,619pt) {Kidney 18};
\node[kid] at (42pt,287pt) {Kidney 16};
\node[kid] at (397pt,287pt) {Kidney 19};
\node[axl, rotate=90] at (12pt,829pt) {Diff 24h vs 0h (Log\textsubscript{2})};
\node[axl, rotate=90] at (362pt,829pt) {Diff 6h vs 0h (Log\textsubscript{2})};
\node[axl, rotate=90] at (12pt,503pt) {Diff 24h vs 0h (Log\textsubscript{2})};
\node[axl, rotate=90] at (362pt,503pt) {Diff 6h vs 0h (Log\textsubscript{2})};
\node[axl, rotate=90] at (12pt,168pt) {Diff 24h vs 0h (Log\textsubscript{2})};
\node[axl, rotate=90] at (362pt,168pt) {Diff 6h vs 0h (Log\textsubscript{2})};
\node[axl, anchor=base] at (186pt,656pt) {Diff 12h vs 0h (Log\textsubscript{2})};
\node[axl, anchor=base] at (526pt,656pt) {Diff 1h vs 0h (Log\textsubscript{2})};
\node[axl, anchor=base] at (186pt,327pt) {Diff 12h vs 0h (Log\textsubscript{2})};
\node[axl, anchor=base] at (523.5pt,327pt) {Diff 1h vs 0h (Log\textsubscript{2})};
\node[axl, anchor=base] at (187pt,6pt) {Diff 12h vs 0h (Log\textsubscript{2})};
\node[axl, anchor=base] at (526pt,6pt) {Diff 1h vs 0h (Log\textsubscript{2})};
\end{tikzpicture}
\end{document}
